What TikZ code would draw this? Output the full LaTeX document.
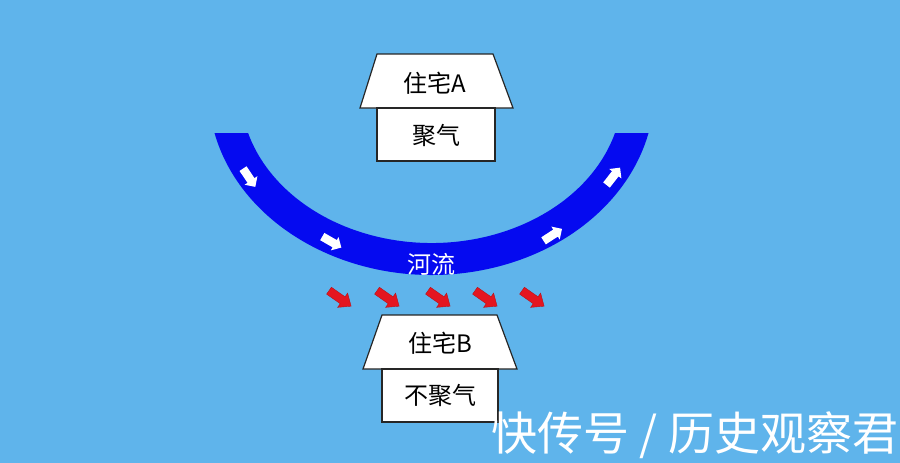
\documentclass[tikz,border=0pt]{standalone}
\usepackage{fontspec}
\newfontfamily\cjk{Noto Sans CJK SC}
\usepackage{tikz}
\usetikzlibrary{shapes.arrows}
\definecolor{skyback}{RGB}{95,180,235}
\definecolor{riverblue}{RGB}{5,10,240}
\definecolor{flowred}{RGB}{228,22,32}

\begin{document}
\begin{tikzpicture}[x=1pt,y=-1pt,
    house/.style={draw=black!85,line width=1.2pt,fill=white},
    roomtext/.style={font=\cjk\fontsize{24}{26}\selectfont,inner sep=0pt},
    whitearrow/.style={shape=single arrow,fill=white,minimum height=22pt,inner xsep=0pt,inner ysep=4pt,single arrow head extend=3.5pt},
    redarrow/.style={shape=single arrow,fill=flowred,draw=flowred!80!black,line width=0.4pt,minimum height=27pt,inner xsep=0pt,inner ysep=4pt,single arrow head extend=4.5pt,single arrow tip angle=80}]
    \fill[skyback] (0,0) rectangle (900,463);
    \useasboundingbox (0,0) rectangle (900,463);
    % river
    \fill[riverblue] (214.5,133) arc[start angle=166.7,end angle=13.3,x radius=223,y radius=184.4]
        -- (615,133) arc[start angle=16.15,end angle=163.85,x radius=191,y radius=152.4] -- cycle;
    \node[roomtext,text=white] (river) at (431,264) {河流};
    \node[whitearrow,rotate=-56] (wa) at (248,176) {};
    \node[whitearrow,rotate=-30] (wb) at (330,241) {};
    \node[whitearrow,rotate=33] (wc) at (551,236) {};
    \node[whitearrow,rotate=52] (wd) at (612,178) {};
    \foreach \x [count=\i] in {338,386,437,484,531}
        \node[redarrow,rotate=-35] (r\i) at (\x,297) {};
    % house A
    \draw[house] (377,54) -- (493,54) -- (513,108) -- (360,108) -- cycle;
    \draw[house] (377,108) rectangle (495,161);
    \node[roomtext] (nameA) at (435,83) {住宅A};
    \node[roomtext] (qiA) at (436,135) {聚气};
    % house B
    \draw[house] (382,315) -- (497,315) -- (517,369) -- (363,369) -- cycle;
    \draw[house] (382,369) rectangle (498,422);
    \node[roomtext] (nameB) at (440,343) {住宅B};
    \node[roomtext] (qiB) at (440,395) {不聚气};
    \node[font=\cjk\fontsize{46}{48}\selectfont,text=white,inner sep=0pt] (mark) at (695,435) {快传号 / 历史观察君};
\end{tikzpicture}
\end{document}
